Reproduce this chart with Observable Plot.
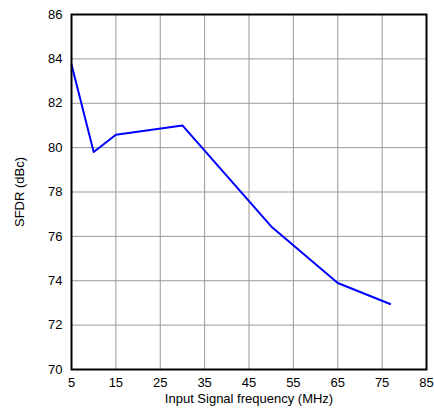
<!DOCTYPE html>
<html>
<head>
<meta charset="utf-8">
<script src="https://cdn.jsdelivr.net/npm/d3@7"></script>
<script src="https://cdn.jsdelivr.net/npm/@observablehq/plot@0.6"></script>
<style>
  html, body { margin: 0; padding: 0; background: #fff; }
  #chart svg { display: block; }
</style>
</head>
<body>
<div id="chart"></div>
<script>
const freq = [5, 10, 15, 30, 50, 65, 76.8];
const sfdr = [83.75, 79.8, 80.58, 81.0, 76.45, 73.9, 72.95];
const xTicks = [5, 15, 25, 35, 45, 55, 65, 75, 85];
const yTicks = [70, 72, 74, 76, 78, 80, 82, 84, 86];
const xLabel = "Input Signal frequency (MHz)";
const yLabel = "SFDR (dBc)";

const data = freq.map((f, i) => ({f, s: sfdr[i]}));

const chart = Plot.plot({
  width: 434,
  height: 412,
  marginLeft: 71,
  marginRight: 8,
  marginTop: 14,
  marginBottom: 43,
  style: {fontFamily: "Liberation Sans, Arial, sans-serif", fontSize: "13px", color: "#000", background: "#fff"},
  x: {domain: [5, 85], ticks: xTicks},
  y: {domain: [70, 86], ticks: yTicks},
  marks: [
    Plot.gridX(xTicks, {stroke: "#999", strokeOpacity: 1, strokeWidth: 1}),
    Plot.gridY(yTicks, {stroke: "#999", strokeOpacity: 1, strokeWidth: 1}),
    Plot.axisX({ticks: xTicks, tickSize: 0, tickPadding: 8, fontSize: 13, label: xLabel, labelAnchor: "center", labelArrow: "none", labelOffset: 33}),
    Plot.axisY({ticks: yTicks, tickSize: 0, tickPadding: 9, fontSize: 13, label: yLabel, labelAnchor: "center", labelArrow: "none", labelOffset: 57}),
    Plot.line(data, {x: "f", y: "s", stroke: "#0000ff", strokeWidth: 2}),
    Plot.frame({stroke: "#000", strokeWidth: 2})
  ]
});
document.getElementById("chart").appendChild(chart);
</script>
</body>
</html>
